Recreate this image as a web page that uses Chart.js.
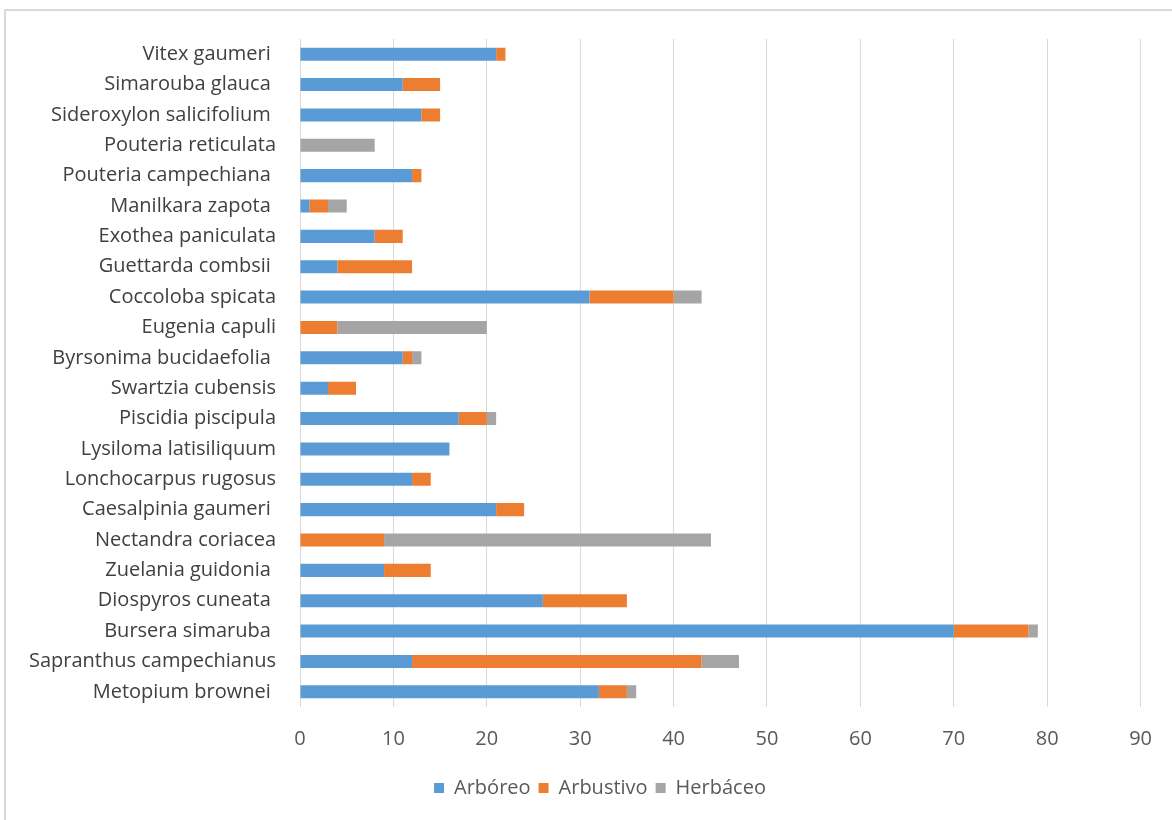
<!DOCTYPE html>
<html>
<head>
<meta charset="utf-8">
<script src="https://cdn.jsdelivr.net/npm/chart.js@4"></script>
<style>
  html, body { margin: 0; padding: 0; background: #fff; }
  #wrap { position: relative; width: 1172px; height: 820px; }
</style>
</head>
<body>
<div id="wrap"><canvas id="barChart" width="1172" height="820"></canvas></div>
<script>
// Especies, de arriba hacia abajo como en la figura
const species = [
    'Vitex gaumeri ', 'Simarouba glauca ', 'Sideroxylon salicifolium ', 'Pouteria reticulata',
    'Pouteria campechiana ', 'Manilkara zapota ', 'Exothea paniculata', 'Guettarda combsii ',
    'Coccoloba spicata', 'Eugenia capuli', 'Byrsonima bucidaefolia ', 'Swartzia cubensis',
    'Piscidia piscipula', 'Lysiloma latisiliquum', 'Lonchocarpus rugosus', 'Caesalpinia gaumeri ',
    'Nectandra coriacea', 'Zuelania guidonia ', 'Diospyros cuneata ', 'Bursera simaruba ',
    'Sapranthus campechianus', 'Metopium brownei '
];

const arboreo   = [21, 11, 13, 0, 12, 1, 8, 4, 31, 0, 11, 3, 17, 16, 12, 21, 0, 9, 26, 70, 12, 32];
const arbustivo = [1, 4, 2, 0, 1, 2, 3, 8, 9, 4, 1, 3, 3, 0, 2, 3, 9, 5, 9, 8, 31, 3];
const herbaceo  = [0, 0, 0, 8, 0, 2, 0, 0, 3, 16, 1, 0, 1, 0, 0, 0, 35, 0, 0, 1, 4, 1];

const xTicks = [0, 10, 20, 30, 40, 50, 60, 70, 80, 90];

const labelColor = '#404040';
const textColor = '#595959';
const fontFamily = "'Open Sans', 'Noto Sans', sans-serif";

// marco gris alrededor del grafico
const framePlugin = {
    id: 'frame',
    beforeDraw(chart) {
        const c = chart.ctx;
        c.save();
        c.strokeStyle = '#d9d9d9';
        c.lineWidth = 2;
        c.beginPath();
        c.moveTo(5, 820);
        c.lineTo(5, 10);
        c.lineTo(1172, 10);
        c.stroke();
        c.restore();
    }
};

// la leyenda de Excel queda un poco a la derecha del centro
const legendShift = {
    id: 'legendShift',
    afterLayout(chart) {
        chart.legend.left += 26;
        chart.legend.right += 26;
    }
};

const ctx = document.getElementById('barChart').getContext('2d');
const chart = new Chart(ctx, {
    type: 'bar',
    data: {
        labels: species,
        datasets: [
            { label: 'Arbóreo', data: arboreo, backgroundColor: '#5B9BD5' },
            { label: 'Arbustivo', data: arbustivo, backgroundColor: '#ED7D31' },
            { label: 'Herbáceo', data: herbaceo, backgroundColor: '#A5A5A5' }
        ]
    },
    options: {
        indexAxis: 'y',
        responsive: false,
        animation: false,
        layout: { padding: { top: 39, right: 24, bottom: 12, left: 0 } },
        datasets: {
            bar: { barPercentage: 0.43, categoryPercentage: 1.0 }
        },
        scales: {
            x: {
                stacked: true,
                min: 0,
                max: 90,
                afterBuildTicks: (scale) => { scale.ticks = xTicks.map(v => ({ value: v })); },
                afterFit: (scale) => { scale.height = 63; },
                grid: { color: '#d9d9d9', drawTicks: false },
                border: { display: false },
                ticks: { color: textColor, font: { family: fontFamily, size: 20 }, padding: 20 }
            },
            y: {
                stacked: true,
                afterFit: (scale) => { scale.width = 300; },
                grid: { display: false },
                border: { display: false },
                ticks: { color: labelColor, font: { family: fontFamily, size: 20 }, padding: 16, autoSkip: false }
            }
        },
        plugins: {
            legend: {
                position: 'bottom',
                labels: {
                    color: textColor,
                    font: { family: fontFamily, size: 20 },
                    boxWidth: 10,
                    boxHeight: 10,
                    padding: 8
                }
            },
            tooltip: { enabled: false }
        }
    },
    plugins: [framePlugin, legendShift]
});
</script>
</body>
</html>
